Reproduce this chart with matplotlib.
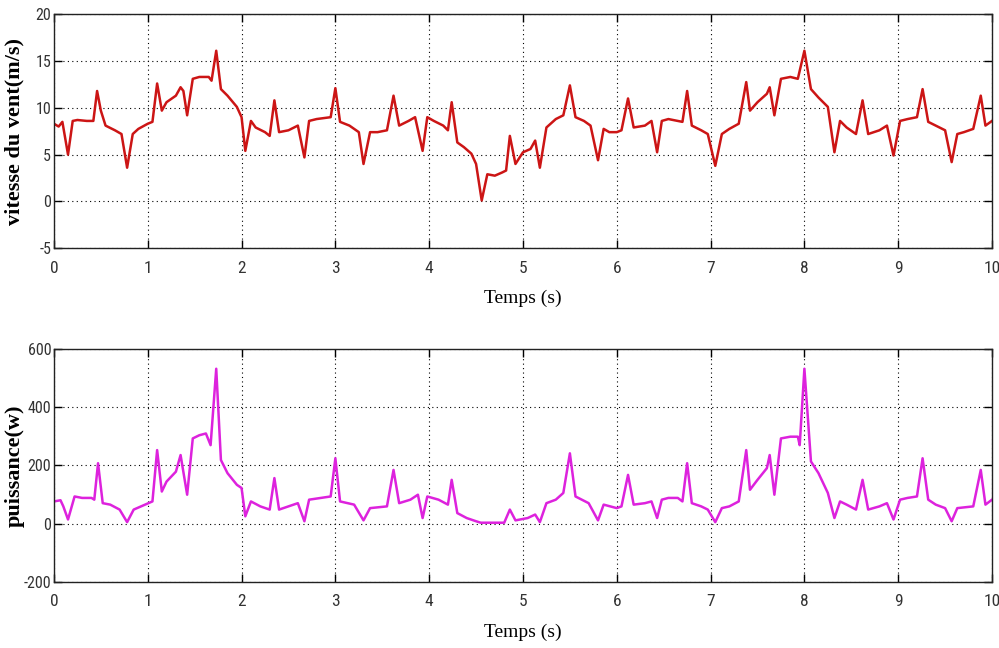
import matplotlib
matplotlib.use("Agg")
import matplotlib.pyplot as plt
from matplotlib import font_manager

# ---- data ----
t_wind = [0.0, 0.05, 0.09, 0.15, 0.2, 0.25, 0.35, 0.42, 0.46, 0.5, 0.55, 0.65, 0.72, 0.78, 0.84, 0.9,
          1.0, 1.05, 1.1, 1.15, 1.2, 1.3, 1.35, 1.38, 1.42, 1.48, 1.55, 1.65, 1.68, 1.73, 1.78, 1.85, 1.95,
          2.0, 2.04, 2.1, 2.15, 2.25, 2.3, 2.35, 2.4, 2.5, 2.6, 2.67, 2.72, 2.8, 2.95,
          3.0, 3.05, 3.15, 3.25, 3.3, 3.37, 3.45, 3.55, 3.62, 3.68, 3.78, 3.85, 3.93, 3.98,
          4.05, 4.15, 4.2, 4.24, 4.3, 4.37, 4.45, 4.5, 4.56, 4.62, 4.7, 4.78, 4.82, 4.86, 4.92,
          5.0, 5.08, 5.13, 5.18, 5.25, 5.35, 5.43, 5.5, 5.56, 5.65, 5.72, 5.8, 5.86, 5.92,
          6.0, 6.05, 6.12, 6.18, 6.3, 6.37, 6.43, 6.48, 6.55, 6.65, 6.7, 6.75, 6.8, 6.9, 6.97,
          7.05, 7.12, 7.2, 7.3, 7.38, 7.42, 7.5, 7.6, 7.63, 7.68, 7.75, 7.85, 7.93,
          8.0, 8.07, 8.15, 8.25, 8.32, 8.38, 8.45, 8.55, 8.62, 8.68, 8.8, 8.88, 8.95,
          9.02, 9.1, 9.2, 9.26, 9.32, 9.4, 9.5, 9.57, 9.63, 9.7, 9.8, 9.88, 9.93, 10.0]
v_wind = [8.3, 8.0, 8.5, 5.0, 8.6, 8.7, 8.6, 8.6, 11.8, 9.7, 8.1, 7.6, 7.2, 3.6, 7.2, 7.75,
          8.3, 8.5, 12.6, 9.7, 10.6, 11.3, 12.2, 11.8, 9.2, 13.1, 13.3, 13.3, 12.9, 16.1, 12.0, 11.3, 10.1,
          9.0, 5.4, 8.6, 7.9, 7.4, 7.0, 10.8, 7.4, 7.6, 8.1, 4.7, 8.6, 8.8, 9.0,
          12.1, 8.5, 8.1, 7.4, 4.0, 7.4, 7.4, 7.6, 11.3, 8.1, 8.6, 9.0, 5.4, 9.0,
          8.6, 8.1, 7.6, 10.6, 6.3, 5.8, 5.1, 4.0, 0.1, 2.9, 2.75, 3.1, 3.3, 7.0, 4.0,
          5.25, 5.6, 6.5, 3.6, 7.9, 8.8, 9.2, 12.4, 9.0, 8.6, 8.1, 4.4, 7.75, 7.4,
          7.4, 7.6, 11.0, 7.9, 8.1, 8.6, 5.25, 8.6, 8.8, 8.6, 8.5, 11.8, 8.1, 7.6, 7.2,
          3.8, 7.2, 7.75, 8.3, 12.75, 9.7, 10.6, 11.5, 12.2, 9.2, 13.1, 13.3, 13.1,
          16.1, 12.0, 11.1, 10.1, 5.25, 8.6, 7.9, 7.2, 10.8, 7.2, 7.6, 8.1, 4.9,
          8.6, 8.8, 9.0, 12.0, 8.5, 8.1, 7.6, 4.2, 7.2, 7.4, 7.75, 11.3, 8.1, 8.6]

t_power = [0.0, 0.07, 0.1, 0.15, 0.2, 0.22, 0.3, 0.4, 0.43, 0.47, 0.52, 0.6, 0.7, 0.78, 0.85, 0.95,
           1.05, 1.1, 1.15, 1.2, 1.3, 1.35, 1.42, 1.48, 1.55, 1.62, 1.67, 1.73, 1.78, 1.85, 1.95,
           2.0, 2.04, 2.1, 2.2, 2.3, 2.35, 2.4, 2.5, 2.6, 2.67, 2.72, 2.85, 2.95,
           3.0, 3.05, 3.2, 3.3, 3.37, 3.55, 3.62, 3.68, 3.8, 3.88, 3.93, 3.98,
           4.1, 4.2, 4.24, 4.3, 4.4, 4.5, 4.55, 4.8, 4.86, 4.92,
           5.05, 5.13, 5.18, 5.25, 5.35, 5.43, 5.5, 5.56, 5.7, 5.8, 5.86,
           6.0, 6.05, 6.12, 6.18, 6.3, 6.37, 6.43, 6.48, 6.55, 6.65, 6.7, 6.75, 6.8, 6.9, 6.97,
           7.05, 7.12, 7.2, 7.3, 7.38, 7.42, 7.5, 7.6, 7.63, 7.68, 7.75, 7.85, 7.93, 7.95,
           8.0, 8.07, 8.15, 8.25, 8.32, 8.38, 8.45, 8.55, 8.62, 8.68, 8.8, 8.88, 8.95,
           9.02, 9.1, 9.2, 9.26, 9.32, 9.4, 9.5, 9.57, 9.63, 9.8, 9.88, 9.93, 10.0]
p_power = [76, 80, 59, 14, 70, 93, 88, 88, 82, 207, 70, 65, 48, 5, 48, 62,
           76, 252, 110, 144, 178, 235, 99, 292, 303, 309, 269, 531, 218, 173, 133,
           122, 25, 76, 59, 48, 156, 48, 59, 70, 8, 82, 88, 93,
           224, 76, 65, 11, 53, 59, 184, 70, 82, 99, 19, 93,
           82, 65, 150, 36, 19, 8, 3, 3, 48, 11,
           19, 31, 5, 70, 82, 105, 241, 93, 70, 11, 65,
           53, 59, 167, 65, 70, 76, 19, 82, 88, 88, 76, 207, 70, 59, 48,
           5, 53, 59, 76, 252, 116, 150, 190, 235, 99, 292, 298, 298, 269,
           531, 213, 173, 105, 19, 76, 65, 48, 150, 48, 59, 70, 14,
           82, 88, 93, 224, 82, 65, 53, 8, 53, 59, 184, 65, 82]

x_ticks = list(range(0, 11))
wind_yticks = [-5, 0, 5, 10, 15, 20]
power_yticks = [-200, 0, 200, 400, 600]

plt.rcParams["axes.unicode_minus"] = False

names = {f.name for f in font_manager.fontManager.ttflist}
tick_font = "Liberation Sans"
for cand in ["Liberation Sans Narrow", "DejaVu Sans Condensed", "Roboto Condensed",
             "Open Sans Condensed"]:
    if cand in names:
        tick_font = cand
        break
serif = "Liberation Serif"

fig = plt.figure(figsize=(9.99, 6.48), dpi=100)
ax1 = fig.add_axes([0.054, 0.617, 0.939, 0.361])
ax2 = fig.add_axes([0.054, 0.102, 0.939, 0.360])

def style(ax, yticks, ylim, ylabel):
    ax.set_xlim(0, 10)
    ax.set_ylim(*ylim)
    ax.set_xticks(x_ticks)
    ax.set_yticks(yticks)
    ax.grid(True, color="black", linestyle=(0, (1, 3)), linewidth=0.8)
    ax.tick_params(direction="in", top=True, right=True, length=6, width=1.0,
                   labelsize=12.5, pad=3)
    ax.tick_params(axis="x", pad=9)
    ax.tick_params(axis="y", labelsize=11.5, pad=2)
    for lab in ax.get_xticklabels() + ax.get_yticklabels():
        lab.set_fontfamily(tick_font)
        lab.set_color("#333333")
    for s in ax.spines.values():
        s.set_linewidth(1.0)
        s.set_color("#222222")
    ax.set_xlabel("Temps (s)", fontfamily=serif, fontsize=14, labelpad=10)
    ax.set_ylabel(ylabel, fontfamily=serif, fontweight="bold", fontsize=16)
    ax.yaxis.set_label_coords(-0.031, 0.5)

ax1.plot(t_wind, v_wind, color="#cc1515", linewidth=1.8)
style(ax1, wind_yticks, (-5, 20), "vitesse du vent(m/s)")
ax2.plot(t_power, p_power, color="#dd22dd", linewidth=1.8)
style(ax2, power_yticks, (-200, 600), "puissance(w)")

fig.savefig("out.png", dpi=100)
